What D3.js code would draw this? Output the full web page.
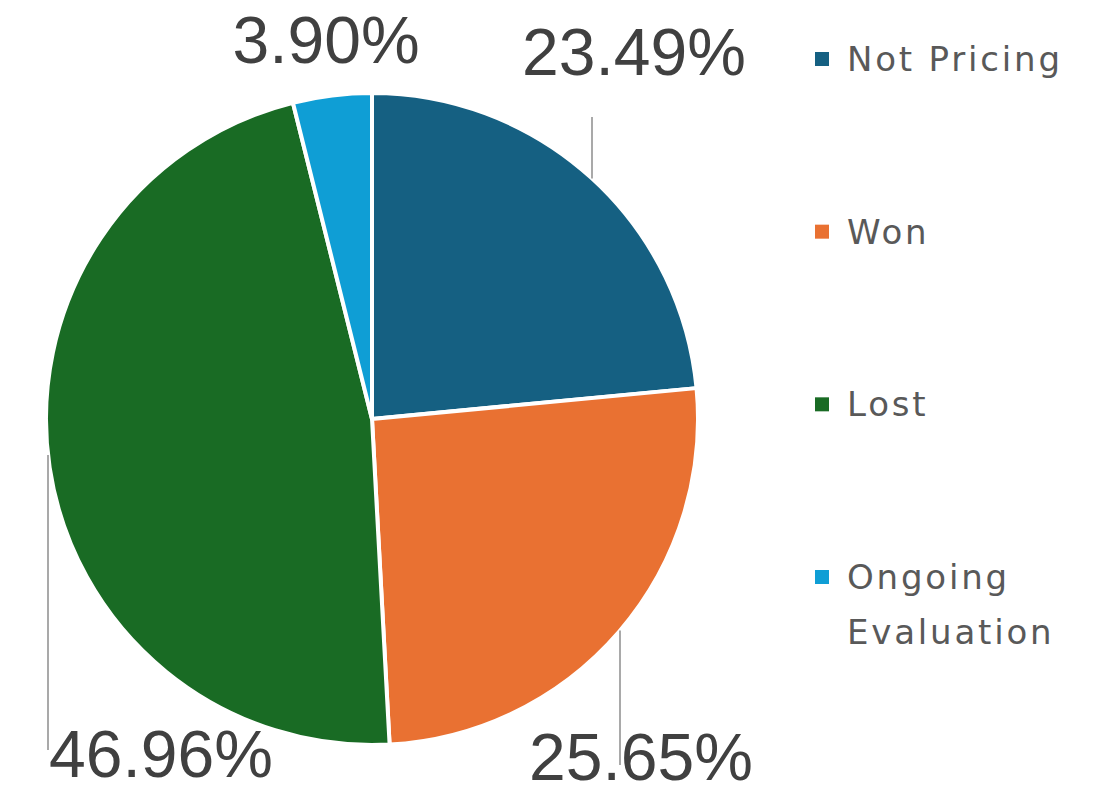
<!DOCTYPE html>
<html>
<head>
<meta charset="utf-8">
<script src="https://cdn.jsdelivr.net/npm/d3@7"></script>
<style>
  html, body { margin: 0; padding: 0; background: #ffffff; }
  svg { display: block; }
</style>
</head>
<body>
<svg id="chart" width="1096" height="785"></svg>
<script>
// Deal outcome shares (percent of total)
const categories = ["Not Pricing", "Won", "Lost", "Ongoing Evaluation"];
const shares = [23.49, 25.65, 46.96, 3.90];
const colors = ["#156082", "#E97132", "#196B24", "#0F9ED5"];
const valueLabels = ["23.49%", "25.65%", "46.96%", "3.90%"];

const W = 1096, H = 785;
const cx = 372, cy = 419, radius = 326;

const svg = d3.select("#chart");

const pie = d3.pie().value(d => d).sort(null).startAngle(0).endAngle(2 * Math.PI);
const arcs = pie(shares);
const arc = d3.arc().innerRadius(0).outerRadius(radius);

const g = svg.append("g").attr("transform", `translate(${cx},${cy})`);

g.selectAll("path.slice")
  .data(arcs)
  .join("path")
  .attr("class", "slice")
  .attr("d", arc)
  .attr("fill", (d, i) => colors[i])
  .attr("stroke", "#ffffff")
  .attr("stroke-width", 4)
  .attr("stroke-linejoin", "round");

// Data label placement (relative to pie centre): label anchor and optional vertical leader
// leader: x offset of the vertical leader line, its far end y, and which half of the circle it meets
const labelLayout = [
  { dx: 262, by: -344, leader: { x: 220, end: -302, side: -1 } },
  { dx: 269, by: 361,  leader: { x: 248, end: 346,  side: 1 } },
  { dx: -211, by: 358, leader: { x: -324, end: 331, side: 1 } },
  { dx: -46, by: -356, leader: null }
];

arcs.forEach((d, i) => {
  const L = labelLayout[i];
  if (L.leader) {
    const lx = L.leader.x;
    const ly = L.leader.side * Math.sqrt(Math.max(0, radius * radius - lx * lx));
    g.append("line")
      .attr("x1", lx).attr("x2", lx)
      .attr("y1", ly).attr("y2", L.leader.end)
      .attr("stroke", "#8c8c8c")
      .attr("stroke-width", 1.5);
  }
  g.append("text")
    .attr("x", L.dx)
    .attr("y", L.by)
    .attr("text-anchor", "middle")
    .attr("font-family", "'Liberation Sans', Arial, sans-serif")
    .attr("font-size", 66)
    .attr("fill", "#404040")
    .text(valueLabels[i]);
});

// Legend
const legendLines = [["Not Pricing"], ["Won"], ["Lost"], ["Ongoing", "Evaluation"]];
const legend = svg.append("g").attr("transform", "translate(815,0)");
const legendY = d3.scalePoint().domain(categories).range([71, 589]);

categories.forEach((c, i) => {
  const y = legendY(c);
  legend.append("rect")
    .attr("x", 0)
    .attr("y", y - 19)
    .attr("width", 14)
    .attr("height", 14)
    .attr("fill", colors[i]);
  const t = legend.append("text")
    .attr("x", 32)
    .attr("y", y)
    .attr("font-family", "'DejaVu Sans', sans-serif")
    .attr("font-size", 34)
    .attr("letter-spacing", 2.8)
    .attr("fill", "#595959");
  legendLines[i].forEach((line, k) => {
    t.append("tspan")
      .attr("x", 32)
      .attr("dy", k === 0 ? 0 : 55)
      .text(line);
  });
});
</script>
</body>
</html>
